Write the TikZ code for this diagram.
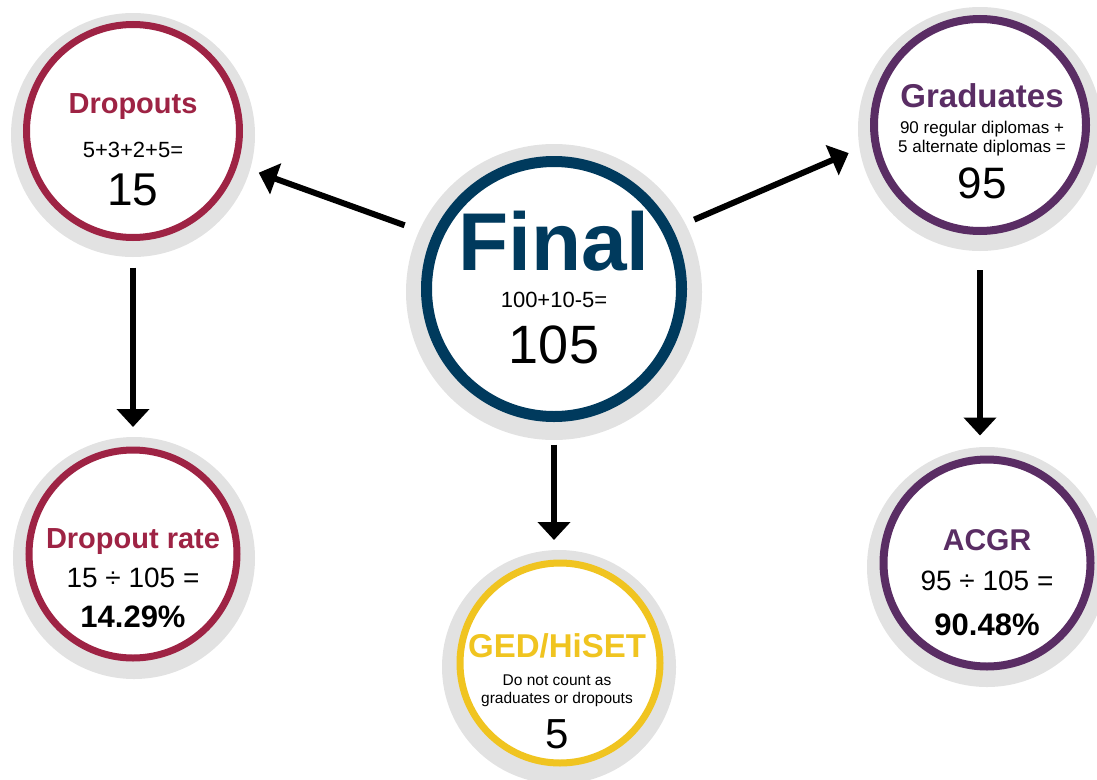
\documentclass[tikz,border=0pt]{standalone}
\usepackage{fontspec}
\setmainfont{Liberation Sans}
\usetikzlibrary{arrows.meta,backgrounds}

\definecolor{wine}{RGB}{158,35,68}
\definecolor{navy}{RGB}{0,58,93}
\definecolor{plum}{RGB}{90,45,100}
\definecolor{gold}{RGB}{240,196,32}
\definecolor{ringgrey}{RGB}{226,226,226}

\newcommand{\fsz}[1]{\fontsize{#1}{#1}\selectfont}

\tikzset{
  ring/.style={circle, draw=#1, fill=white, inner sep=0pt, outer sep=0pt},
  flow/.style={-{Triangle[width=32pt,length=18pt]}, line width=6pt, black},
  lbl/.style={anchor=base, inner sep=0pt},
}

\begin{document}
\begin{tikzpicture}[x=1pt,y=-1pt]
      \useasboundingbox (0,0) rectangle (1097,779);
      % Circulos
      \node[ring=wine, line width=7pt,  minimum size=213pt] (drop)  at (133,131) {};
      \node[ring=navy, line width=11pt, minimum size=255pt] (final) at (554,289) {};
      \node[ring=plum, line width=8pt,  minimum size=212pt] (grad)  at (980,125) {};
      \node[ring=wine, line width=7pt,  minimum size=208pt] (rate)  at (133,554) {};
      \node[ring=gold, line width=7pt,  minimum size=200pt] (ged)   at (560,663) {};
      \node[ring=plum, line width=8pt,  minimum size=207pt] (acgr)  at (987,563) {};

      % Aneis cinzentos
      \begin{scope}[on background layer]
        \fill[ringgrey] (133,135) circle (122);
        \fill[ringgrey] (554,292) circle (148);
        \fill[ringgrey] (980,129) circle (122);
        \fill[ringgrey] (134,558) circle (121);
        \fill[ringgrey] (559,667) circle (117);
        \fill[ringgrey] (987,567) circle (120);
      \end{scope}

      % Setas
      \draw[flow, shorten <=35pt, shorten >=26pt] (final.156) -- (drop.342);
      \draw[flow, shorten <=29pt, shorten >=29pt] (final.27)  -- (grad.189);
      \draw[flow, shorten <=30pt, shorten >=23pt] (drop.south) -- (rate.north);
      \draw[flow, shorten <=39pt, shorten >=24pt] (grad.south) -- (grad.south |- acgr.north);
      \draw[flow, shorten <=28pt, shorten >=23pt] (final.south) -- (final.south |- ged.north);

      % Textos
      \node[lbl, text=wine, font=\fsz{29}\bfseries] (dropA) at (133,113) {Dropouts};
      \node[lbl, font=\fsz{22}] (dropB) at (133,157) {5+3+2+5=};
      \node[lbl, font=\fsz{46}] (dropC) at (133,205) {15};

      \node[lbl, text=navy, font=\fsz{82}\bfseries] (finalA) at (554,270) {Final};
      \node[lbl, font=\fsz{22}] (finalB) at (554,307) {100+10-5=};
      \node[lbl, font=\fsz{54}] (finalC) at (554,363) {105};

      \node[lbl, text=plum, font=\fsz{33}\bfseries] (gradA) at (982,107) {Graduates};
      \node[lbl, font=\fsz{17}] (gradB) at (982,133) {90 regular diplomas +};
      \node[lbl, font=\fsz{17}] (gradC) at (982,152) {5 alternate diplomas =};
      \node[lbl, font=\fsz{44}] (gradD) at (982,198) {95};

      \node[lbl, text=wine, font=\fsz{29}\bfseries] (rateA) at (133,548) {Dropout rate};
      \node[lbl, font=\fsz{28}] (rateB) at (133,587) {15 ÷ 105 =};
      \node[lbl, font=\fsz{31}\bfseries] (rateC) at (133,627) {14.29\%};

      \node[lbl, text=gold, font=\fsz{33}\bfseries] (gedA) at (557,657) {GED/HiSET};
      \node[lbl, font=\fsz{15.5}] (gedB) at (557,685) {Do not count as};
      \node[lbl, font=\fsz{15.5}] (gedC) at (557,703) {graduates or dropouts};
      \node[lbl, font=\fsz{42}] (gedD) at (557,748) {5};

      \node[lbl, text=plum, font=\fsz{30}\bfseries] (acgrA) at (987,550) {ACGR};
      \node[lbl, font=\fsz{28}] (acgrB) at (987,590) {95 ÷ 105 =};
      \node[lbl, font=\fsz{31}\bfseries] (acgrC) at (987,635) {90.48\%};

    \end{tikzpicture}
\end{document}
